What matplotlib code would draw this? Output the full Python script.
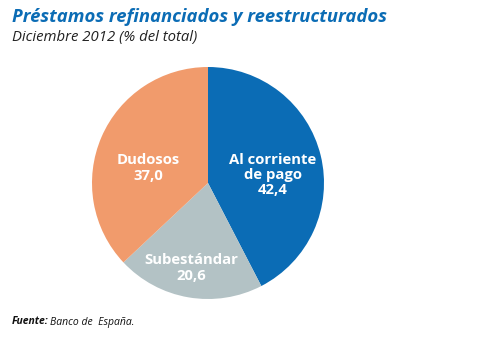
import matplotlib
matplotlib.use("Agg")
import matplotlib.pyplot as plt

categories = ["Al corriente\nde pago", "Subestándar", "Dudosos"]
values = [42.4, 20.6, 37.0]
value_labels = ["42,4", "20,6", "37,0"]
colors = ["#0b6cb5", "#b3c2c5", "#f19b6c"]

fig = plt.figure(figsize=(4.83, 3.38), dpi=100)
fig.patch.set_facecolor("white")
W, H = 483, 338
ax = fig.add_axes([92 / W, 39 / H, 232 / W, 232 / H])
wedges, _ = ax.pie(values, colors=colors, startangle=90, counterclock=False,
                   radius=1.0, wedgeprops=dict(linewidth=0))
ax.set_xlim(-1, 1)
ax.set_ylim(-1, 1)
ax.set_aspect("equal")
ax.axis("off")

label_pos = [((273 - 208) / 116, (183 - 175) / 116),
             ((191 - 208) / 116, (183 - 268) / 116),
             ((148 - 208) / 116, (183 - 168) / 116)]
for cat, vl, (x, y) in zip(categories, value_labels, label_pos):
    ax.text(x, y, f"{cat}\n{vl}", ha="center", va="center", color="white",
            fontsize=10.7, fontweight="bold", family="Open Sans", linespacing=1.1)

fig.text(12 / W, 1 - 17 / H, "Préstamos refinanciados y reestructurados",
         ha="left", va="center", fontsize=13.3, fontweight="bold", style="italic",
         color="#0b6cb5", family="Open Sans")
fig.text(12 / W, 1 - 38 / H, "Diciembre 2012 (% del total)",
         ha="left", va="center", fontsize=10.7, style="italic", color="#222222",
         family="Open Sans")
fig.text(12 / W, 1 - 322 / H, "Fuente:", ha="left", va="center",
         fontsize=7.5, fontweight="bold", style="italic", color="#111111",
         family="Open Sans")
fig.text(50 / W, 1 - 322 / H, "Banco de  España.", ha="left", va="center",
         fontsize=7.5, style="italic", color="#111111", family="Open Sans")

fig.savefig("out.png", dpi=100)
